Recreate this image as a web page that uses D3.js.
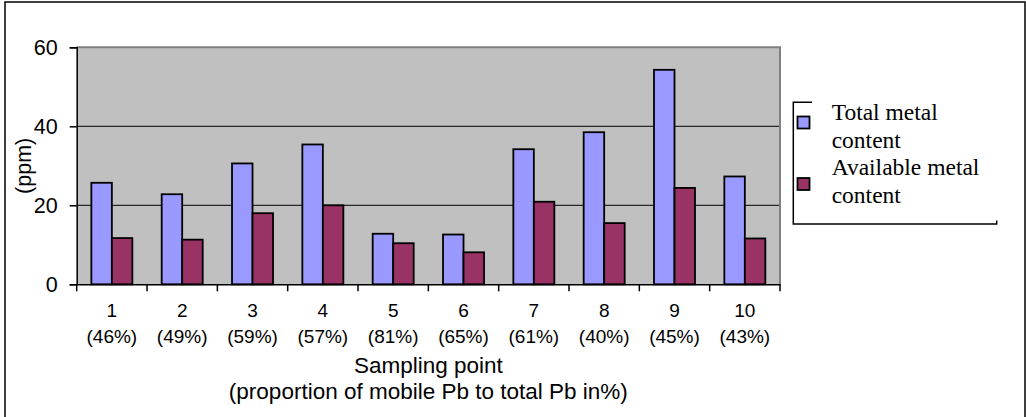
<!DOCTYPE html>
<html><head><meta charset="utf-8">
<script src="https://cdn.jsdelivr.net/npm/d3@7"></script>
<style>html,body{margin:0;padding:0;background:#fff;}svg{display:block;}</style>
</head><body>
<script>
const categories = ["1","2","3","4","5","6","7","8","9","10"];
const percentLabels = ["(46%)","(49%)","(59%)","(57%)","(81%)","(65%)","(61%)","(40%)","(45%)","(43%)"];
const seriesNames = ["Total metal content","Available metal content"];
const totalMetal = [25.7, 22.8, 30.6, 35.4, 12.8, 12.6, 34.2, 38.5, 54.3, 27.3];
const availableMetal = [11.7, 11.3, 18.0, 20.0, 10.4, 8.1, 20.9, 15.5, 24.4, 11.6];
const yTicks = [0, 20, 40, 60];

const W = 1026, H = 417;
const svg = d3.select("body").append("svg").attr("width", W).attr("height", H);
const L = 76.7, R = 780, T = 47.3, B = 284.3;
const colors = ["#9999FF", "#993366"];

// outer border
svg.append("rect").attr("x", 5).attr("y", 2).attr("width", 1020).attr("height", 430)
  .attr("fill", "#fff").attr("stroke", "#000").attr("stroke-width", 1.5);

const x = d3.scaleBand().domain(categories).range([L, R]).padding(0);
const xs = d3.scaleBand().domain([0, 1]).range([0, x.bandwidth()]).paddingInner(0).paddingOuter(0.715);
const y = d3.scaleLinear().domain([0, 60]).range([B, T]);

// plot area
svg.append("rect").attr("x", L).attr("y", T).attr("width", R - L).attr("height", B - T).attr("fill", "#C0C0C0");
// gridlines
svg.append("g").selectAll("line").data(yTicks.filter(d => d > 0 && d < 60)).join("line")
  .attr("x1", L).attr("x2", R).attr("y1", d => y(d)).attr("y2", d => y(d))
  .attr("stroke", "#000").attr("stroke-width", 1);
// top/right border gray
svg.append("path").attr("d", `M${L},${y(60)}H${R}V${B}`).attr("fill", "none").attr("stroke", "#808080").attr("stroke-width", 2);

// bars
const data = categories.map((c, i) => ({c, v: [totalMetal[i], availableMetal[i]]}));
const g = svg.append("g").selectAll("g").data(data).join("g").attr("transform", d => `translate(${x(d.c)},0)`);
g.selectAll("rect").data(d => d.v.map((v, k) => ({v, k}))).join("rect")
  .attr("x", d => xs(d.k)).attr("width", xs.bandwidth())
  .attr("y", d => y(d.v)).attr("height", d => B - y(d.v))
  .attr("fill", d => colors[d.k]).attr("stroke", "#000").attr("stroke-width", 1.8);

// y axis
const yAxis = d3.axisLeft(y).tickValues(yTicks).tickSize(7).tickPadding(12).tickFormat(d3.format("d"));
const ya = svg.append("g").attr("transform", `translate(${L},0)`).call(yAxis);
ya.select(".domain").attr("stroke", "#000").attr("stroke-width", 1.5);
ya.selectAll(".tick line").attr("stroke", "#000").attr("stroke-width", 1.5);
ya.selectAll(".tick text").attr("font-family", "Liberation Sans, Arial, sans-serif").attr("font-size", 21.5).attr("fill", "#000");

// x axis
const xAxis = d3.axisBottom(x).tickSize(0).tickFormat("");
const xa = svg.append("g").attr("transform", `translate(0,${B})`).call(xAxis);
xa.select(".domain").attr("stroke", "#000").attr("stroke-width", 1.5);
xa.selectAll(".tick").remove();
const bounds = categories.map(c => x(c)).concat([R]);
svg.append("g").selectAll("line").data(bounds).join("line")
  .attr("x1", d => d).attr("x2", d => d).attr("y1", B).attr("y2", B + 7)
  .attr("stroke", "#000").attr("stroke-width", 1.5);
const xl = svg.append("g").attr("font-family", "Liberation Sans, Arial, sans-serif").attr("font-size", 19).attr("fill", "#000").attr("text-anchor", "middle");
xl.selectAll("text.n").data(categories).join("text").attr("class", "n")
  .attr("x", d => x(d) + x.bandwidth() / 2).attr("y", 316.5).text(d => d);
xl.selectAll("text.p").data(categories.map((c, i) => ({c, p: percentLabels[i]}))).join("text").attr("class", "p")
  .attr("x", d => x(d.c) + x.bandwidth() / 2).attr("y", 342.5).text(d => d.p);

// axis titles
const tf = svg.append("g").attr("font-family", "Liberation Sans, Arial, sans-serif").attr("font-size", 22.5).attr("fill", "#000").attr("text-anchor", "middle");
tf.append("text").attr("x", (L + R) / 2).attr("y", 373).text("Sampling point");
tf.append("text").attr("x", (L + R) / 2).attr("y", 398.5).text("(proportion of mobile Pb to total Pb in%)");
tf.append("text").attr("transform", `translate(31,${(T + B) / 2}) rotate(-90)`).attr("font-size", 21.5).text("(ppm)");

// legend
const lg = svg.append("g");
lg.append("path").attr("d", "M812,102.3H793.3V224H996.7V220.5").attr("fill", "none").attr("stroke", "#000").attr("stroke-width", 1.5);
const legendLines = [["Total metal", "content"], ["Available metal", "content"]];
const lgItems = lg.selectAll("g").data(seriesNames).join("g");
lgItems.append("rect").attr("x", 797.5).attr("y", (d, i) => [116.5, 178][i]).attr("width", 12).attr("height", 12)
  .attr("fill", (d, i) => colors[i]).attr("stroke", "#000").attr("stroke-width", 1.8);
lgItems.each(function(d, i) {
  const t = d3.select(this).append("text").attr("font-family", "Liberation Serif, Times New Roman, serif").attr("font-size", 23.5).attr("fill", "#000");
  legendLines[i].forEach((s, j) => t.append("tspan").attr("x", 831.7).attr("y", [120, 175][i] + j * 27.5).text(s));
});
</script>
</body></html>
